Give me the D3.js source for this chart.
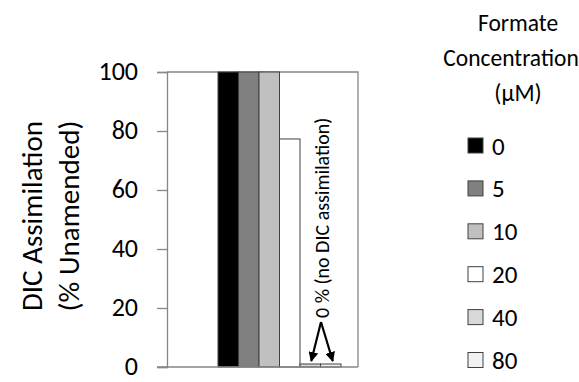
<!DOCTYPE html>
<html>
<head>
<meta charset="utf-8">
<script src="https://cdn.jsdelivr.net/npm/d3@7"></script>
<style>
  html, body { margin: 0; padding: 0; background: #fff; }
  svg { display: block; font-family: Carlito, Lato, "Open Sans", sans-serif; }
</style>
</head>
<body>
<svg id="chart" width="579" height="382"></svg>
<script>
// Formate concentrations (µM) and their DIC assimilation (% of unamended)
const concentrations = ["0", "5", "10", "20", "40", "80"];
const assimilation = [100, 100, 100, 77.3, 0, 0];
const fills = ["#000000", "#808080", "#c0c0c0", "#ffffff", "#d9d9d9", "#f2f2f2"];
const yTicks = [0, 20, 40, 60, 80, 100];
const legendTitle = ["Formate", "Concentration", "(µM)"];
const yTitle = ["DIC Assimilation", "(% Unamended)"];
const zeroNote = "0 % (no DIC assimilation)";

const FONT = "Carlito, Lato, 'Open Sans', sans-serif";
const AXIS_GREY = "#868686";
const MIN_BAR_PX = 3; // keep zero-valued bars visible as a thin box

const svg = d3.select("#chart");
const plot = { left: 167, right: 358, top: 72, bottom: 367 };

const y = d3.scaleLinear().domain([0, 100]).range([plot.bottom, plot.top]);
const x = d3.scaleBand().domain(concentrations).range([218, 341]).padding(0);

// plot frame (top and right edges)
svg.append("path")
  .attr("d", `M${plot.left},${plot.top}H${plot.right}V${plot.bottom}`)
  .attr("fill", "none").attr("stroke", AXIS_GREY).attr("stroke-width", 1.3);

// bars
svg.append("g").selectAll("rect")
  .data(concentrations.map((c, i) => ({ c, v: assimilation[i], f: fills[i] })))
  .join("rect")
  .attr("x", d => x(d.c))
  .attr("y", d => Math.min(y(d.v), y(0) - MIN_BAR_PX))
  .attr("width", x.bandwidth())
  .attr("height", d => Math.max(y(0) - y(d.v), MIN_BAR_PX))
  .attr("fill", d => d.f)
  .attr("stroke", "#404040").attr("stroke-width", 1);

// y axis
const yAxis = d3.axisLeft(y).tickValues(yTicks).tickSize(10).tickPadding(19);
const ya = svg.append("g").attr("transform", `translate(${plot.left},0)`).call(yAxis);
ya.select(".domain").attr("stroke", AXIS_GREY).attr("stroke-width", 1.3);
ya.selectAll(".tick line").attr("stroke", AXIS_GREY).attr("stroke-width", 1.3);
ya.selectAll(".tick text").attr("font-size", 26).attr("fill", "#000")
  .attr("font-family", FONT).attr("dy", "0.3em");

// baseline
svg.append("line")
  .attr("x1", plot.left - 10).attr("x2", plot.right)
  .attr("y1", y(0)).attr("y2", y(0))
  .attr("stroke", AXIS_GREY).attr("stroke-width", 1.3);

// y axis title
const yt = svg.append("text")
  .attr("transform", "translate(0,216) rotate(-90)")
  .attr("text-anchor", "middle").attr("font-size", 29).attr("fill", "#000");
yt.selectAll("tspan").data(yTitle).join("tspan")
  .attr("x", 0).attr("y", (d, i) => 42 + i * 37).text(d => d);

// annotation for the zero bars
const noteX = 329, noteBottom = 318;
svg.append("text")
  .attr("transform", `translate(${noteX},${noteBottom}) rotate(-90)`)
  .attr("font-size", 20).attr("fill", "#000").text(zeroNote);

svg.append("defs").append("marker")
  .attr("id", "arrow").attr("viewBox", "0 0 10 10")
  .attr("refX", 9).attr("refY", 5)
  .attr("markerWidth", 4.5).attr("markerHeight", 4.5)
  .attr("orient", "auto")
  .append("path").attr("d", "M0,0L10,5L0,10z").attr("fill", "#000");

const tail = { x: 321, y: 322 };
[concentrations[4], concentrations[5]].forEach((c, i) => {
  const cx = x(c) + x.bandwidth() / 2 + (i === 0 ? 1 : 2);
  svg.append("line")
    .attr("x1", tail.x).attr("y1", tail.y)
    .attr("x2", cx).attr("y2", y(0) - 6)
    .attr("stroke", "#000").attr("stroke-width", 2.2)
    .attr("marker-end", "url(#arrow)");
});

// legend
const lt = svg.append("text").attr("text-anchor", "middle")
  .attr("font-size", 23.5).attr("fill", "#000");
lt.selectAll("tspan").data(legendTitle).join("tspan")
  .attr("x", (d, i) => i === 1 ? 511 : 518)
  .attr("y", (d, i) => 31 + i * 35).text(d => d);

const lg = svg.append("g").selectAll("g")
  .data(concentrations.map((c, i) => ({ c, f: fills[i] })))
  .join("g")
  .attr("transform", (d, i) => `translate(468,${138 + i * 42.9})`);
lg.append("rect").attr("width", 15).attr("height", 15)
  .attr("fill", d => d.f).attr("stroke", "#404040").attr("stroke-width", 1);
lg.append("text").attr("x", 24).attr("y", 16.5)
  .attr("font-size", 25).attr("fill", "#000").text(d => d.c);
</script>
</body>
</html>
